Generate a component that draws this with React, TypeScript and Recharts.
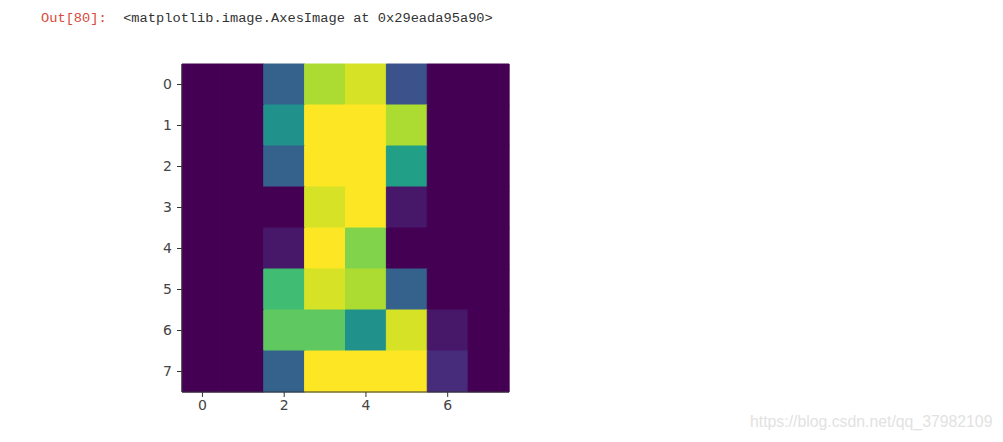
import { BarChart, Bar, Cell, XAxis, YAxis } from "recharts";

// 8x8 pixel intensities (0..16), one array per image row
const row0 = [0, 0, 5, 14, 15, 4, 0, 0];
const row1 = [0, 0, 8, 16, 16, 14, 0, 0];
const row2 = [0, 0, 5, 16, 16, 9, 0, 0];
const row3 = [0, 0, 0, 15, 16, 1, 0, 0];
const row4 = [0, 0, 1, 16, 13, 0, 0, 0];
const row5 = [0, 0, 11, 15, 14, 5, 0, 0];
const row6 = [0, 0, 12, 12, 8, 15, 1, 0];
const row7 = [0, 0, 5, 16, 16, 16, 2, 0];
const pixelRows = [row0, row1, row2, row3, row4, row5, row6, row7];

const columns = [0, 1, 2, 3, 4, 5, 6, 7];
const xTicks = [0, 2, 4, 6];
const yTicks = [0.5, 1.5, 2.5, 3.5, 4.5, 5.5, 6.5, 7.5];
const vmax = 16;

// matplotlib viridis, sampled every 0.1
const viridis = [
  [68, 1, 84],
  [72, 36, 117],
  [65, 68, 135],
  [53, 95, 141],
  [42, 120, 142],
  [33, 145, 140],
  [34, 168, 132],
  [68, 191, 112],
  [122, 209, 81],
  [189, 223, 38],
  [253, 231, 37],
];

function colorFor(v: number) {
  const t = Math.max(0, Math.min(1, v / vmax)) * 10;
  const i = Math.min(9, Math.floor(t));
  const f = t - i;
  const a = viridis[i];
  const b = viridis[i + 1];
  const c = a.map((x, k) => Math.round(x + (b[k] - x) * f));
  return `rgb(${c[0]},${c[1]},${c[2]})`;
}

// one entry per column, each row stacked as a unit-height segment
const data = columns.map((col) => {
  const d: Record<string, number> = { col };
  pixelRows.forEach((_, r) => {
    d[`r${r}`] = 1;
  });
  return d;
});

const tickStyle = { fontSize: 14, fill: "#444", fontFamily: "DejaVu Sans" };

export default function App() {
  return (
    <div style={{ position: "absolute", left: 0, top: 0, width: 1003, height: 442, background: "#fff" }}>
      <div
        style={{
          position: "absolute",
          left: 41,
          top: 11,
          fontFamily: "Liberation Mono",
          fontSize: 13.7,
          whiteSpace: "pre",
        }}
      >
        <span style={{ color: "#d84a3a" }}>Out[80]:</span>
        <span style={{ color: "#333" }}>  {"<matplotlib.image.AxesImage at 0x29eada95a90>"}</span>
      </div>

      <div style={{ position: "absolute", left: 0, top: 0 }}>
        <BarChart
          width={530}
          height={430}
          data={data}
          margin={{ top: 64, right: 21, left: 122, bottom: 8 }}
          barCategoryGap={0}
        >
          <XAxis
            dataKey="col"
            type="category"
            ticks={xTicks}
            interval={0}
            height={30}
            tick={tickStyle}
            tickSize={5}
            tickMargin={3}
            stroke="#333"
          />
          <XAxis xAxisId="top" orientation="top" dataKey="col" tick={false} tickLine={false} height={0} stroke="#333" />
          <YAxis
            type="number"
            domain={[0, 8]}
            reversed
            ticks={yTicks}
            interval={0}
            width={60}
            tickFormatter={(v) => String(v - 0.5)}
            tick={tickStyle}
            tickSize={5}
            tickMargin={5}
            stroke="#333"
          />
          <YAxis yAxisId="right" orientation="right" domain={[0, 8]} tick={false} tickLine={false} width={0} stroke="#333" />
          {pixelRows.map((row, r) => (
            <Bar key={r} dataKey={`r${r}`} stackId="img" isAnimationActive={false}>
              {row.map((v, c) => (
                <Cell key={c} fill={colorFor(v)} stroke={colorFor(v)} strokeWidth={1} />
              ))}
            </Bar>
          ))}
        </BarChart>
      </div>

      <div
        style={{
          position: "absolute",
          left: 750,
          top: 413,
          fontFamily: "Liberation Sans",
          fontSize: 15.8,
          color: "#e2e2e2",
        }}
      >
        https://blog.csdn.net/qq_37982109
      </div>
    </div>
  );
}
